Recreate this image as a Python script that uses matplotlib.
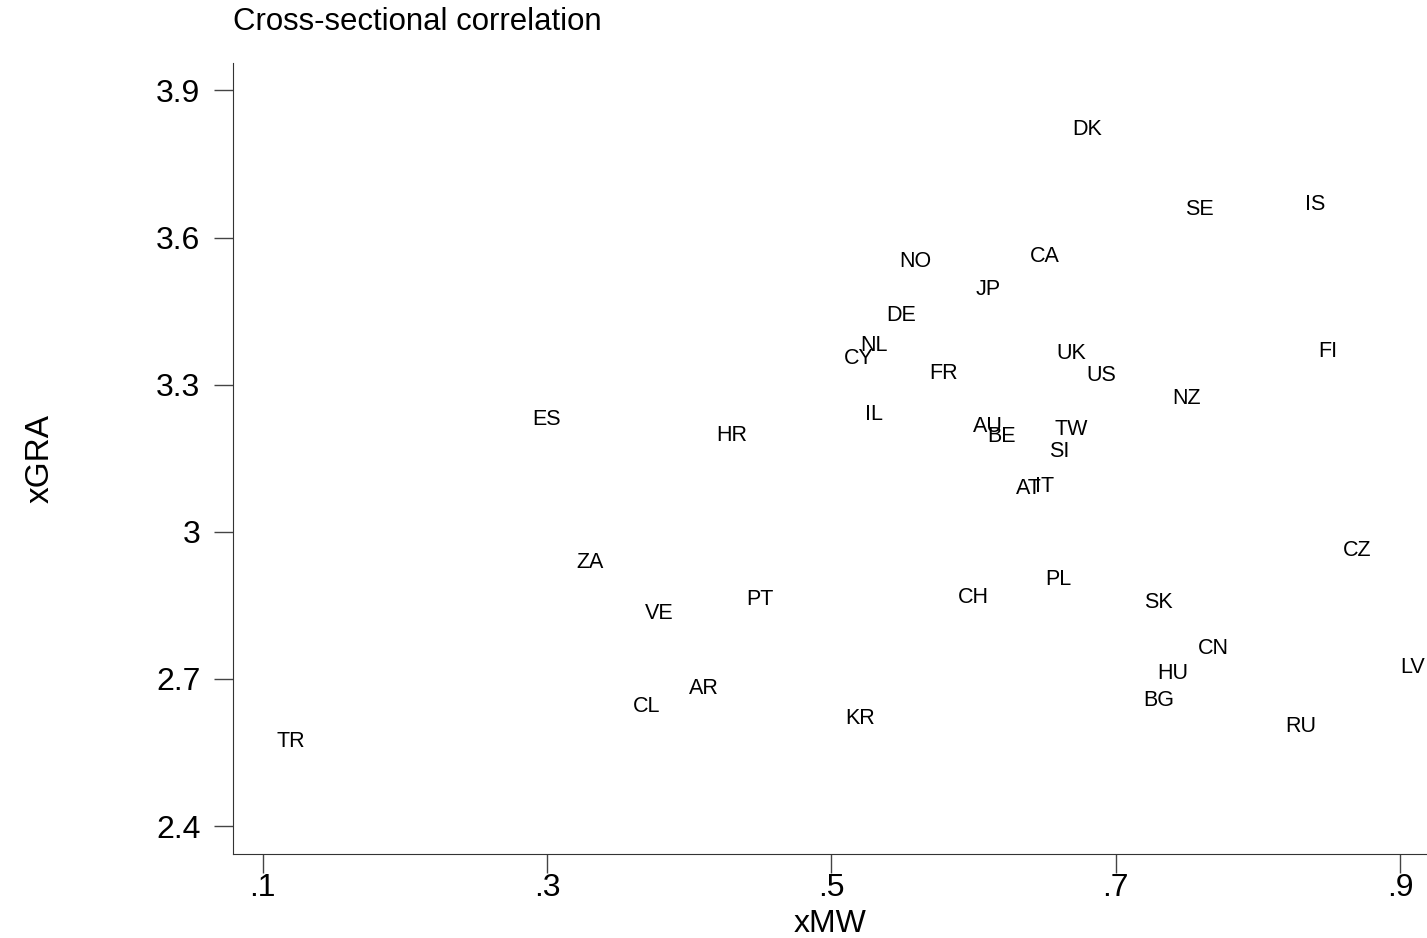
import matplotlib as mpl
mpl.rcParams.update({"font.family": ["Liberation Sans", "DejaVu Sans"]})
import matplotlib.pyplot as plt

# country codes with (xMW, xGRA)
countries = ["DK", "SE", "IS", "NO", "CA", "JP", "DE", "NL", "CY", "FR",
             "UK", "US", "FI", "NZ", "ES", "IL", "HR", "AU", "BE", "TW",
             "SI", "AT", "IT", "ZA", "CZ", "PL", "VE", "PT", "CH", "SK",
             "CN", "HU", "LV", "AR", "BG", "CL", "KR", "RU", "TR"]
xmw = [0.680, 0.759, 0.840, 0.559, 0.650, 0.610, 0.549, 0.530, 0.519, 0.579,
       0.669, 0.690, 0.849, 0.750, 0.300, 0.530, 0.430, 0.610, 0.620, 0.669,
       0.660, 0.639, 0.650, 0.330, 0.870, 0.660, 0.379, 0.450, 0.600, 0.730,
       0.769, 0.740, 0.909, 0.410, 0.730, 0.370, 0.520, 0.830, 0.120]
xgra = [3.820, 3.657, 3.667, 3.551, 3.561, 3.494, 3.441, 3.380, 3.353, 3.322,
        3.363, 3.318, 3.367, 3.271, 3.229, 3.239, 3.196, 3.214, 3.194, 3.208,
        3.163, 3.088, 3.092, 2.937, 2.961, 2.902, 2.833, 2.861, 2.865, 2.855,
        2.763, 2.712, 2.724, 2.680, 2.655, 2.643, 2.620, 2.602, 2.573]

xticks = [0.1, 0.3, 0.5, 0.7, 0.9]
xticklabels = [".1", ".3", ".5", ".7", ".9"]
yticks = [2.4, 2.7, 3.0, 3.3, 3.6, 3.9]
yticklabels = ["2.4", "2.7", "3", "3.3", "3.6", "3.9"]

fig = plt.figure(figsize=(14.27, 9.38), dpi=100)
ax = fig.add_axes([0.1633, 0.0896, 0.8367, 0.8432])

for c, x, y in zip(countries, xmw, xgra):
    ax.text(x, y, c, ha="center", va="center", fontsize=15.5, color="black")

ax.set_xlim(0.0791, 0.919)
ax.set_ylim(2.343, 3.956)
ax.set_xticks(xticks)
ax.set_xticklabels(xticklabels, fontsize=23)
ax.set_yticks(yticks)
ax.set_yticklabels(yticklabels, fontsize=23)
ax.tick_params(axis="both", length=13.5, width=1, color="#444444")
ax.tick_params(axis="x", pad=0.5)
ax.tick_params(axis="y", pad=10)

ax.spines["top"].set_visible(False)
ax.spines["right"].set_visible(False)
ax.spines["left"].set_color("#333333")
ax.spines["bottom"].set_color("#333333")

ax.set_xlabel("xMW", fontsize=23, labelpad=4)
ax.set_ylabel("xGRA", fontsize=24, labelpad=72)
fig.text(0.1633, 0.977, "Cross-sectional correlation", fontsize=22.4, ha="left", va="center")

plt.savefig("out.png", dpi=100)
